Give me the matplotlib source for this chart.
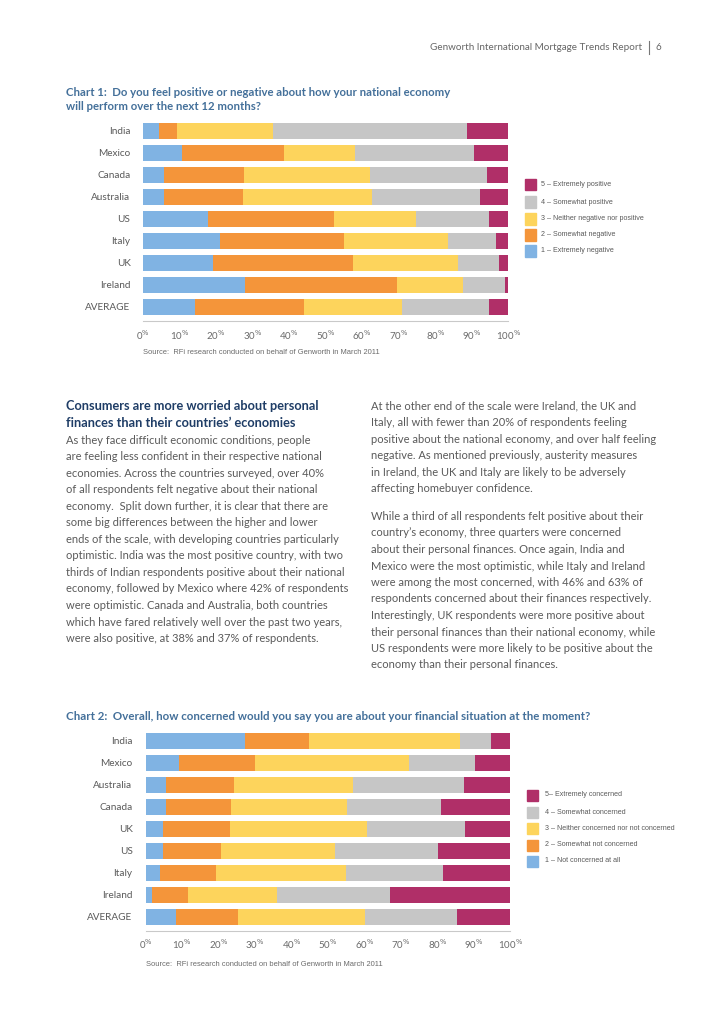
import matplotlib
matplotlib.use("Agg")
import matplotlib.pyplot as plt
import numpy as np

# ---------------- data ----------------
c1_countries = ["India", "Mexico", "Canada", "Australia", "US", "Italy", "UK", "Ireland", "AVERAGE"]
c1_s1 = [4.5, 10.6, 5.8, 5.7, 17.7, 21.1, 19.1, 27.8, 14.1]   # 1 - Extremely negative
c1_s2 = [4.9, 28.1, 21.9, 21.7, 34.6, 34.0, 38.5, 41.8, 30.0]  # 2 - Somewhat negative
c1_s3 = [26.2, 19.3, 34.5, 35.3, 22.5, 28.4, 28.5, 18.1, 26.9] # 3 - Neither
c1_s4 = [53.2, 32.5, 32.1, 29.6, 20.0, 13.1, 11.4, 11.3, 23.8] # 4 - Somewhat positive
c1_s5 = [11.2, 9.5, 5.7, 7.7, 5.2, 3.4, 2.5, 1.0, 5.2]         # 5 - Extremely positive
c1_legend = ["5 \u2013 Extremely positive", "4 \u2013 Somewhat positive",
             "3 \u2013 Neither negative nor positive", "2 \u2013 Somewhat negative",
             "1 \u2013 Extremely negative"]

c2_countries = ["India", "Mexico", "Australia", "Canada", "UK", "US", "Italy", "Ireland", "AVERAGE"]
c2_s1 = [27.2, 9.0, 5.6, 5.6, 4.8, 4.8, 3.9, 1.6, 8.4]         # 1 - Not concerned at all
c2_s2 = [17.6, 21.1, 18.6, 17.8, 18.3, 15.9, 15.4, 10.1, 16.9] # 2 - Somewhat not concerned
c2_s3 = [41.4, 42.1, 32.6, 31.9, 37.6, 31.1, 35.6, 24.4, 34.9] # 3 - Neither
c2_s4 = [8.5, 18.1, 30.6, 25.7, 26.8, 28.5, 26.6, 31.0, 25.1]  # 4 - Somewhat concerned
c2_s5 = [5.3, 9.7, 12.6, 19.0, 12.5, 19.7, 18.5, 32.9, 14.7]   # 5 - Extremely concerned
c2_legend = ["5\u2013 Extremely concerned", "4 \u2013 Somewhat concerned",
             "3 \u2013 Neither concerned nor not concerned", "2 \u2013 Somewhat not concerned",
             "1 \u2013 Not concerned at all"]

xticks = [0, 10, 20, 30, 40, 50, 60, 70, 80, 90, 100]

colors = ["#80b3e3", "#f4953a", "#fdd45c", "#c6c6c6", "#b02f68"]  # 1..5

W, H = 728, 1030
fig = plt.figure(figsize=(W / 100, H / 100), dpi=100)
fig.patch.set_facecolor("white")

BODY = ["Lato", "DejaVu Sans"]
NARROW = ["Liberation Sans Narrow", "Liberation Sans", "DejaVu Sans"]
GREY = "#5a5a5a"


def fx(x):
    return x / W


def fy(y):
    return 1 - y / H


def bar_chart(left, right, row0, spacing, bottom_px, countries, series, label_pad):
    top_px = row0 - 0.5 * spacing - 0.5
    ax = fig.add_axes([fx(left), fy(bottom_px), fx(right - left), (bottom_px - top_px) / H])
    y = np.arange(len(countries))
    cum = np.zeros(len(countries))
    for vals, col in zip(series, colors):
        vals = np.array(vals)
        ax.barh(y, vals, left=cum, height=0.73, color=col, edgecolor="none")
        cum += vals
    ax.set_xlim(0, 100)
    ax.set_ylim((bottom_px - row0) / spacing, (top_px - row0) / spacing)
    for s in ["left", "top", "right"]:
        ax.spines[s].set_visible(False)
    ax.spines["bottom"].set_color("#c9c9c9")
    ax.spines["bottom"].set_linewidth(0.8)
    ax.set_yticks(y)
    ax.set_yticklabels(countries, family=BODY, fontsize=7.2, color=GREY)
    ax.tick_params(axis="y", length=0, pad=label_pad)
    ax.set_xticks(xticks)
    ax.set_xticklabels([f"{v}$^{{\\%}}$" for v in xticks], family=BODY, fontsize=7, color="#6a6a6a")
    ax.tick_params(axis="x", which="major", length=0, pad=5)
    ax.set_xticks([0, 100], minor=True)
    ax.tick_params(axis="x", which="minor", length=4, direction="in", color="#c9c9c9", width=0.8)
    return ax


def legend(x_sq, x_txt, ys, labels):
    for yy, lab, col in zip(ys, labels, colors[::-1]):
        fig.patches.append(plt.Rectangle((fx(x_sq), fy(yy + 5.5)), fx(11), 11 / H,
                                         transform=fig.transFigure, color=col, zorder=3))
        fig.text(fx(x_txt), fy(yy), lab, family=NARROW, fontsize=5.1, color=GREY,
                 va="center", ha="left")


# ---------------- header ----------------
fig.text(fx(642), fy(47), "Genworth International Mortgage Trends Report", family=BODY,
         fontsize=7.1, color="#666666", ha="right", va="center")
fig.add_artist(plt.Line2D([fx(649), fx(649)], [fy(41), fy(54)], color="#777777", lw=0.8))
fig.text(fx(655), fy(47), "6", family=BODY, fontsize=7.1, color="#666666", ha="left", va="center")

TITLE = "#44709a"
fig.text(fx(66), fy(92), "Chart 1:  Do you feel positive or negative about how your national economy",
         family=BODY, fontsize=8.2, fontweight="bold", color=TITLE, va="center")
fig.text(fx(66), fy(107), "will perform over the next 12 months?",
         family=BODY, fontsize=8.2, fontweight="bold", color=TITLE, va="center")

# ---------------- chart 1 ----------------
bar_chart(143, 508.3, 131, 22, 321.5, c1_countries, [c1_s1, c1_s2, c1_s3, c1_s4, c1_s5], 9)
legend(525, 541, [185, 202, 219, 235, 251], c1_legend)
fig.text(fx(143), fy(353), "Source:  RFi research conducted on behalf of Genworth in March 2011",
         family=NARROW, fontsize=5.4, color="#6a6a6a", va="center")

# ---------------- text columns ----------------
HEAD = "#1f3d66"
fig.text(fx(66), fy(406), "Consumers are more worried about personal", family=BODY, fontsize=9.15,
         fontweight="bold", color=HEAD, va="center")
fig.text(fx(66), fy(423), "finances than their countries\u2019 economies", family=BODY, fontsize=9.15,
         fontweight="bold", color=HEAD, va="center")

left_lines = [
    "As they face difficult economic conditions, people",
    "are feeling less confident in their respective national",
    "economies. Across the countries surveyed, over 40%",
    "of all respondents felt negative about their national",
    "economy.  Split down further, it is clear that there are",
    "some big differences between the higher and lower",
    "ends of the scale, with developing countries particularly",
    "optimistic. India was the most positive country, with two",
    "thirds of Indian respondents positive about their national",
    "economy, followed by Mexico where 42% of respondents",
    "were optimistic. Canada and Australia, both countries",
    "which have fared relatively well over the past two years,",
    "were also positive, at 38% and 37% of respondents.",
]
for i, ln in enumerate(left_lines):
    fig.text(fx(66), fy(440 + i * 16.55), ln, family=BODY, fontsize=8.05, color=GREY, va="center")

right_p1 = [
    "At the other end of the scale were Ireland, the UK and",
    "Italy, all with fewer than 20% of respondents feeling",
    "positive about the national economy, and over half feeling",
    "negative. As mentioned previously, austerity measures",
    "in Ireland, the UK and Italy are likely to be adversely",
    "affecting homebuyer confidence.",
]
right_p2 = [
    "While a third of all respondents felt positive about their",
    "country\u2019s economy, three quarters were concerned",
    "about their personal finances. Once again, India and",
    "Mexico were the most optimistic, while Italy and Ireland",
    "were among the most concerned, with 46% and 63% of",
    "respondents concerned about their finances respectively.",
    "Interestingly, UK respondents were more positive about",
    "their personal finances than their national economy, while",
    "US respondents were more likely to be positive about the",
    "economy than their personal finances.",
]
for i, ln in enumerate(right_p1):
    fig.text(fx(371), fy(406 + i * 16.55), ln, family=BODY, fontsize=8.0, color=GREY, va="center")
for i, ln in enumerate(right_p2):
    fig.text(fx(371), fy(516.5 + i * 16.5), ln, family=BODY, fontsize=8.0, color=GREY, va="center")

# ---------------- chart 2 ----------------
fig.text(fx(66), fy(717), "Chart 2:  Overall, how concerned would you say you are about your financial situation at the moment?",
         family=BODY, fontsize=8.25, fontweight="bold", color=TITLE, va="center")
bar_chart(145.7, 510.3, 741, 21.95, 930.7, c2_countries, [c2_s1, c2_s2, c2_s3, c2_s4, c2_s5], 9.5)
legend(527, 545, [795, 812, 828, 845, 861], c2_legend)
fig.text(fx(146), fy(964), "Source:  RFi research conducted on behalf of Genworth in March 2011",
         family=NARROW, fontsize=5.4, color="#6a6a6a", va="center")

fig.savefig("out.png", dpi=100, facecolor="white")
